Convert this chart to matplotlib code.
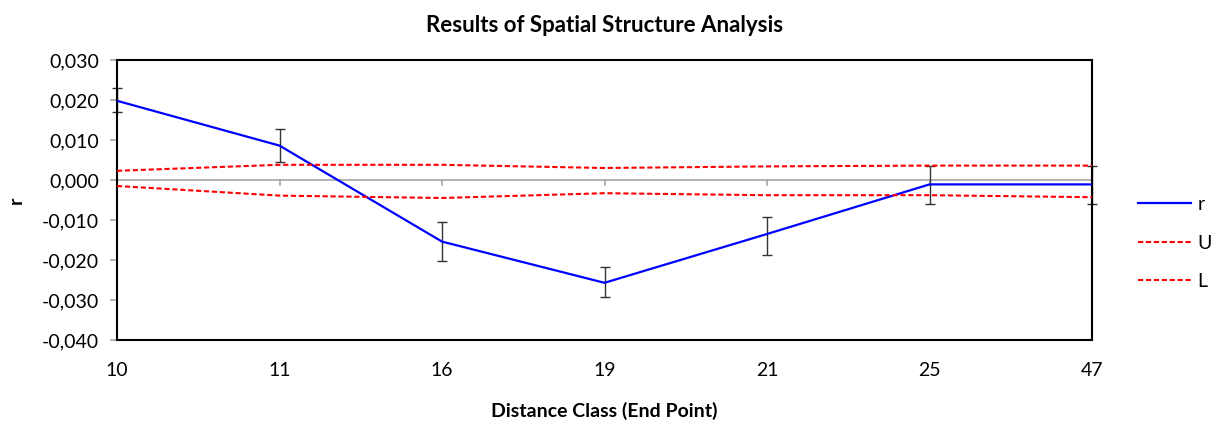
import matplotlib
matplotlib.use("Agg")
import matplotlib.pyplot as plt
import numpy as np

# distance classes (end point) and results
classes = ["10", "11", "16", "19", "21", "25", "47"]
r_vals = [0.0198, 0.0086, -0.0154, -0.0257, -0.0135, -0.0011, -0.0011]
err_up = [0.0032, 0.0041, 0.0049, 0.0040, 0.0042, 0.0047, 0.0047]
err_lo = [0.0028, 0.0042, 0.0049, 0.0035, 0.0053, 0.0049, 0.0049]
u_vals = [0.0023, 0.0038, 0.0038, 0.0030, 0.0034, 0.0036, 0.0036]
l_vals = [-0.0015, -0.0039, -0.0045, -0.0033, -0.0038, -0.0038, -0.0043]
y_ticks = [-0.04, -0.03, -0.02, -0.01, 0.0, 0.01, 0.02, 0.03]

plt.rcParams["font.family"] = ["Lato", "DejaVu Sans"]

fig = plt.figure(figsize=(12.18, 4.23), dpi=100)
ax = fig.add_axes([117 / 1218, 1 - 340 / 423, 975 / 1218, 280 / 423])

x = np.arange(len(classes))

ax.axhline(0, color="#a6a6a6", lw=1.2, zorder=1)
ax.errorbar(x, r_vals, yerr=[err_lo, err_up], fmt="none", ecolor="#333333",
            elinewidth=1.0, capsize=3.8, capthick=1.0, clip_on=False, zorder=2)
ax.plot(x, r_vals, color="#0000ff", lw=1.6, label="r", zorder=3)
ax.plot(x, u_vals, color="#ff0000", lw=1.5, ls=(0, (2.5, 1.3)), label="U", zorder=3)
ax.plot(x, l_vals, color="#ff0000", lw=1.5, ls=(0, (2.5, 1.3)), label="L", zorder=3)

# x ticks sit on the zero line, labels stay at the bottom
for xi in x[1:-1]:
    ax.plot([xi, xi], [0, -0.0012], color="#a6a6a6", lw=1.2, zorder=1)

ax.set_xlim(0, len(classes) - 1)
ax.set_ylim(-0.04, 0.03)
ax.set_xticks(x)
ax.set_xticklabels(classes)
ax.tick_params(axis="x", length=0, pad=16, labelsize=14)
ax.set_yticks(y_ticks)
ax.set_yticklabels([f"{v:.3f}".replace(".", ",") for v in y_ticks])
ax.tick_params(axis="y", length=5, color="#a6a6a6", width=1.2, labelsize=14, pad=8)

for s in ax.spines.values():
    s.set_color("black")
    s.set_linewidth(1.5)

ax.set_title("Results of Spatial Structure Analysis", fontsize=16,
             fontweight="bold", pad=20)
ax.set_xlabel("Distance Class (End Point)", fontsize=14, fontweight="bold", labelpad=16)
ax.set_ylabel("r", fontsize=14, fontweight="bold", labelpad=12)

ax.legend(loc="center left", bbox_to_anchor=(1138 / 1218, 1 - 243 / 423),
          bbox_transform=fig.transFigure, frameon=False, fontsize=14,
          borderpad=0, borderaxespad=0,
          handlelength=2.7, handletextpad=0.36, labelspacing=1.1)

fig.savefig("out.png", dpi=100)
